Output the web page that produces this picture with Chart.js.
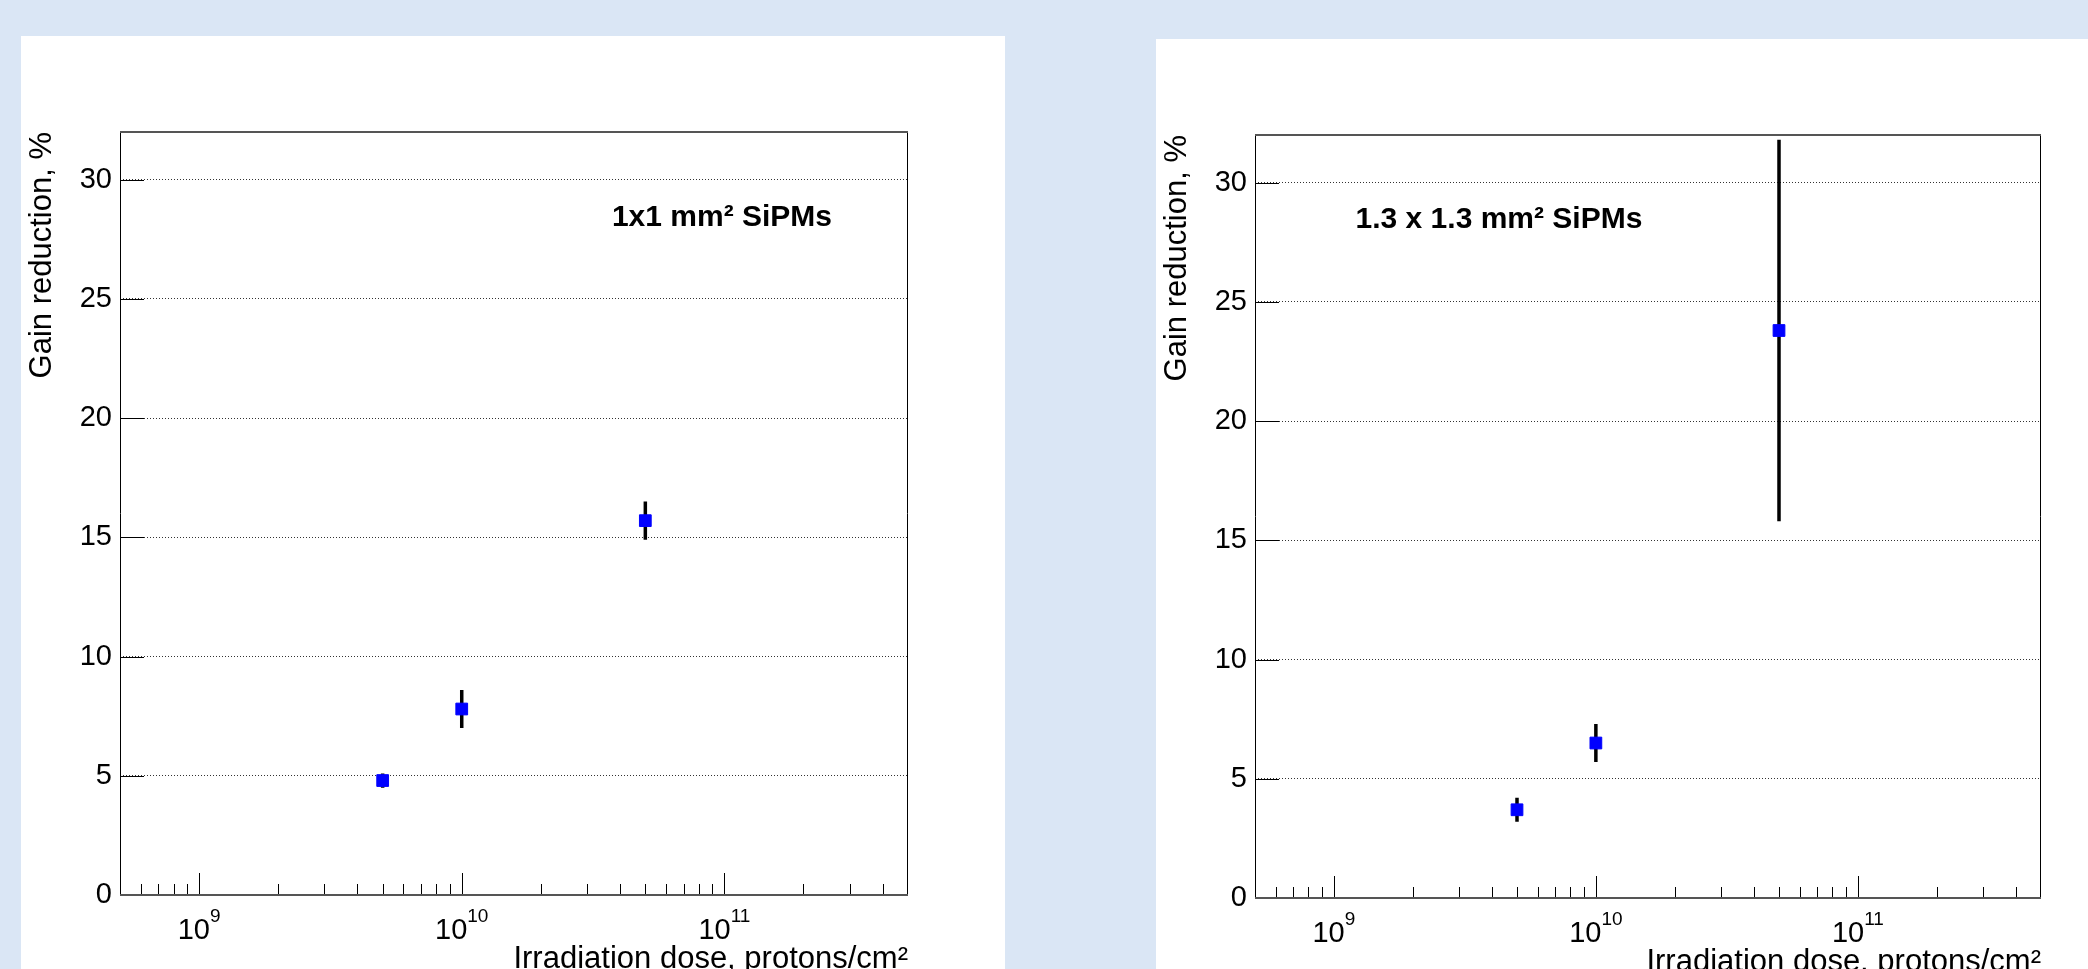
<!DOCTYPE html>
<html>
<head>
<meta charset="utf-8">
<script src="https://cdn.jsdelivr.net/npm/chart.js@4.4.1/dist/chart.umd.min.js"></script>
<style>
  html, body { margin: 0; padding: 0; width: 2088px; height: 969px; overflow: hidden; background: #dae6f5; }
  .panel { position: absolute; background: #fff; }
  #p1 { left: 21px; top: 36px; width: 984px; height: 960px; }
  #p2 { left: 1156px; top: 39px; width: 932px; height: 960px; }
  canvas { display: block; }
</style>
</head>
<body>
<div class="panel" id="p1"><canvas id="c1" width="984" height="960"></canvas></div>
<div class="panel" id="p2"><canvas id="c2" width="932" height="960"></canvas></div>
<script>
// irradiation doses, protons/cm2
const doses = [5e9, 1e10, 5e10];

// 1x1 mm2 SiPMs
const gainSmall = [4.8, 7.8, 15.7];
const errSmall = [0.3, 0.8, 0.8];

// 1.3 x 1.3 mm2 SiPMs
const gainLarge = [3.7, 6.5, 23.8];
const errLarge = [0.5, 0.8, 8.0];

const yTicks = [0, 5, 10, 15, 20, 25, 30];
const xMajorTicks = [1e9, 1e10, 1e11];
const xMajorExp = ["9", "10", "11"];
const xMinorTicks = [
  6e8, 7e8, 8e8, 9e8,
  2e9, 3e9, 4e9, 5e9, 6e9, 7e9, 8e9, 9e9,
  2e10, 3e10, 4e10, 5e10, 6e10, 7e10, 8e10, 9e10,
  2e11, 3e11, 4e11
];

const FONT = '"Liberation Sans", Arial, Helvetica, sans-serif';

function errorSegments(xs, ys, es) {
  const pts = [];
  xs.forEach((x, i) => {
    pts.push({ x: x, y: ys[i] - es[i] });
    pts.push({ x: x, y: ys[i] + es[i] });
    pts.push({ x: x, y: null });
  });
  return pts;
}

// ROOT-like frame: inward ticks, box, 10^n labels and the text label
const rootFrame = {
  id: "rootFrame",
  afterDraw(chart, args, opts) {
    const ctx = chart.ctx;
    const area = chart.chartArea;
    const xs = chart.scales.x;
    const ys = chart.scales.y;
    ctx.save();

    // ticks
    ctx.strokeStyle = "#000";
    ctx.lineWidth = 1;
    ctx.beginPath();
    yTicks.forEach((v) => {
      const py = Math.round(ys.getPixelForValue(v)) + 0.5;
      ctx.moveTo(area.left, py);
      ctx.lineTo(area.left + 24, py);
    });
    xMajorTicks.forEach((v) => {
      const px = Math.round(xs.getPixelForValue(v)) + 0.5;
      ctx.moveTo(px, area.bottom);
      ctx.lineTo(px, area.bottom - 22);
    });
    xMinorTicks.forEach((v) => {
      const px = Math.round(xs.getPixelForValue(v)) + 0.5;
      ctx.moveTo(px, area.bottom);
      ctx.lineTo(px, area.bottom - 11);
    });
    ctx.stroke();

    // frame
    ctx.beginPath();
    ctx.moveTo(area.left + 0.5, area.top);
    ctx.lineTo(area.left + 0.5, area.bottom);
    ctx.moveTo(area.right - 0.5, area.top);
    ctx.lineTo(area.right - 0.5, area.bottom);
    ctx.stroke();
    ctx.strokeStyle = "#555";
    ctx.lineWidth = 2;
    ctx.beginPath();
    ctx.moveTo(area.left, area.top);
    ctx.lineTo(area.right, area.top);
    ctx.moveTo(area.left, area.bottom);
    ctx.lineTo(area.right, area.bottom);
    ctx.stroke();

    // x labels 10^n
    ctx.fillStyle = "#000";
    ctx.textBaseline = "alphabetic";
    ctx.textAlign = "left";
    xMajorTicks.forEach((v, i) => {
      const px = xs.getPixelForValue(v);
      ctx.font = "29px " + FONT;
      const wb = ctx.measureText("10").width;
      ctx.font = "19px " + FONT;
      const we = ctx.measureText(xMajorExp[i]).width;
      const x0 = px - (wb + we) / 2;
      ctx.font = "29px " + FONT;
      ctx.fillText("10", x0, area.bottom + 44);
      ctx.font = "19px " + FONT;
      ctx.fillText(xMajorExp[i], x0 + wb, area.bottom + 27);
    });

    // panel label
    ctx.font = "bold 30px " + FONT;
    ctx.fillText(opts.text, xs.getPixelForValue(opts.x), ys.getPixelForValue(opts.y));
    ctx.restore();
  }
};

function makeChart(id, gains, errs, rightPad, label) {
  const ctx = document.getElementById(id).getContext("2d");
  return new Chart(ctx, {
    type: "scatter",
    data: {
      datasets: [
        {
          label: "error",
          data: errorSegments(doses, gains, errs),
          showLine: true,
          spanGaps: false,
          borderColor: "#000",
          borderWidth: 3.5,
          pointRadius: 0,
          order: 2,
        },
        {
          label: "gain",
          data: doses.map((d, i) => ({ x: d, y: gains[i] })),
          pointStyle: "rect",
          pointRadius: 8.3,
          pointBackgroundColor: "#0000ff",
          pointBorderColor: "#0000ff",
          pointBorderWidth: 1,
          order: 1,
        },
      ],
    },
    options: {
      responsive: false,
      animation: false,
      events: [],
      layout: { padding: { left: 0, top: 96, right: rightPad, bottom: 0 } },
      plugins: {
        legend: { display: false },
        tooltip: { enabled: false },
        rootFrame: label,
      },
      scales: {
        x: {
          type: "logarithmic",
          min: 5e8,
          max: 5e11,
          grid: { display: false },
          border: { display: false },
          ticks: { display: false },
          title: {
            display: true,
            text: "Irradiation dose, protons/cm\u00b2",
            align: "end",
            color: "#000",
            font: { family: FONT, size: 31 },
            padding: { top: 0, bottom: 18 },
          },
          afterFit: (s) => { s.height = 101; },
        },
        y: {
          min: 0,
          max: 32,
          afterBuildTicks: (s) => { s.ticks = yTicks.map((v) => ({ value: v })); },
          grid: { color: "#333", lineWidth: 1, drawTicks: false },
          border: { display: false, dash: [1, 2] },
          ticks: {
            padding: 8,
            color: "#000",
            font: { family: FONT, size: 29 },
          },
          title: {
            display: true,
            text: "Gain reduction, %",
            align: "end",
            color: "#000",
            font: { family: FONT, size: 31 },
            padding: { top: 3, bottom: 0 },
          },
          afterFit: (s) => { s.width = 99; },
        },
      },
    },
    plugins: [rootFrame],
  });
}

makeChart("c1", gainSmall, errSmall, 97, { text: "1x1 mm\u00b2 SiPMs", x: 3.73e10, y: 28.06 });
makeChart("c2", gainLarge, errLarge, 47, { text: "1.3 x 1.3 mm\u00b2 SiPMs", x: 1.21e9, y: 28.09 });
</script>
</body>
</html>
